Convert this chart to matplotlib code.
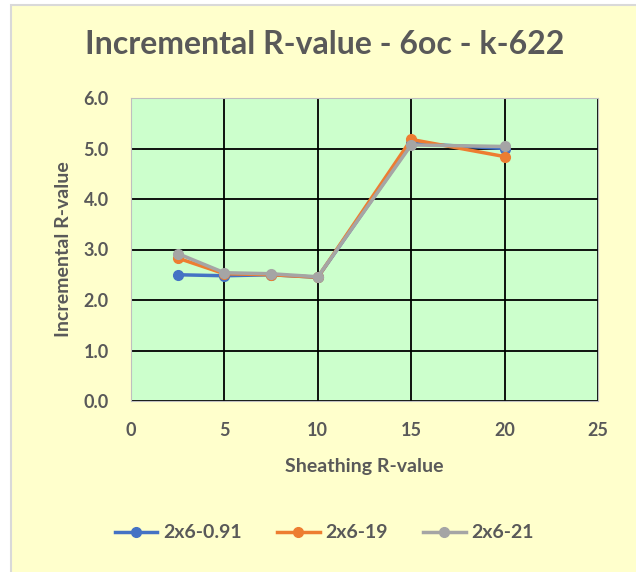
import matplotlib
matplotlib.use("Agg")
import matplotlib.pyplot as plt
from matplotlib.patches import Rectangle

# data
sheathing = [2.5, 5, 7.5, 10, 15, 20]
r_091 = [2.50, 2.48, 2.50, 2.45, 5.10, 5.00]
r_19 = [2.83, 2.52, 2.50, 2.45, 5.18, 4.84]
r_21 = [2.92, 2.54, 2.52, 2.46, 5.07, 5.04]
series_names = ["2x6-0.91", "2x6-19", "2x6-21"]
colors = ["#4472C4", "#ED7D31", "#A5A5A5"]

plt.rcParams['font.family'] = ['Lato', 'DejaVu Sans']
txt = "#595959"

fig = plt.figure(figsize=(6.36, 5.72), dpi=100, facecolor="white")
fig.patches.append(Rectangle((11/636, -0.05), 1.0, 1 - 5/572 + 0.05,
                             transform=fig.transFigure, facecolor="#FFFFCC",
                             edgecolor="#D9D9D9", linewidth=1.5, zorder=-5))

ax = fig.add_axes([131/636, 1 - 401/572, (598 - 131)/636, (401 - 98)/572])
ax.set_facecolor("#CCFFCC")

for ys, name, c in zip([r_091, r_19, r_21], series_names, colors):
    ax.plot(sheathing, ys, color=c, lw=2.5, marker="o", ms=7, label=name, zorder=3)

ax.set_xlim(0, 25)
ax.set_ylim(0, 6)
ax.set_xticks(range(0, 26, 5))
ax.set_yticks(range(0, 7))
ax.set_yticklabels(["%.1f" % v for v in range(0, 7)])
ax.grid(True, color="black", lw=1.3)
ax.set_axisbelow(True)
ax.tick_params(length=0, labelsize=13, labelcolor=txt)
ax.tick_params(axis="x", pad=15)
ax.tick_params(axis="y", pad=16)
for lab in ax.get_xticklabels() + ax.get_yticklabels():
    lab.set_fontweight("bold")
for s in ax.spines.values():
    s.set_color("#BFBFBF")

ax.set_xlabel("Sheathing R-value", fontsize=14, fontweight="bold", color=txt, labelpad=14)
ax.set_ylabel("Incremental R-value", fontsize=14, fontweight="bold", color=txt, labelpad=8)
fig.text(0.51, 1 - 45/572, "Incremental R-value - 6oc - k-622", ha="center", va="center",
         fontsize=23, fontweight="bold", color=txt)

fig.legend(loc="center", bbox_to_anchor=(0.51, 1 - 533/572), ncol=3, frameon=False,
           prop={"weight": "bold", "size": 14}, labelcolor=txt, handlelength=2.2,
           handletextpad=0.3, columnspacing=1.8)

plt.savefig("out.png", dpi=100, facecolor=fig.get_facecolor())
